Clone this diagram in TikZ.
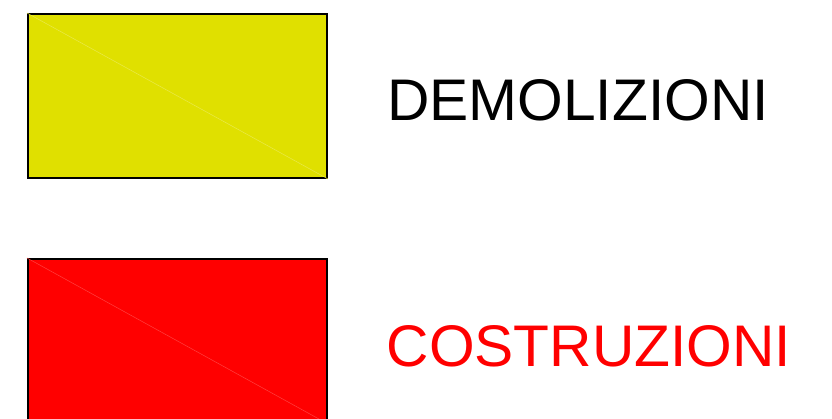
\documentclass[tikz,border=0pt]{standalone}
\usepackage{fontspec}
\setmainfont{Liberation Sans}
\definecolor{demoyellow}{RGB}{224,224,0}
\definecolor{costred}{RGB}{255,0,0}
\tikzset{
  swatch/.style={draw=black, line width=2pt, minimum width=299pt, minimum height=164pt, inner sep=0pt, anchor=north west},
  diag/.style={line width=0.5pt},
  legendtext/.style={anchor=base west, inner sep=0pt, font=\fontsize{58.7}{70}\selectfont}
}
\begin{document}
\begin{tikzpicture}[x=1pt,y=-1pt]
\useasboundingbox (0,0) rectangle (832,419);
\node[swatch, fill=demoyellow] (yel) at (27,13) {};
\draw[diag, demoyellow!70!white] (yel.north west) -- (yel.south east);
\node[swatch, fill=costred] (red) at (27,258) {};
\draw[diag, costred!75!white] (red.north west) -- (red.south east);
\node[legendtext, text=black] (demo) at (387,121) {DEMOLIZIONI};
\node[legendtext, text=costred] (cost) at (386.5,366) {COSTRUZIONI};
\end{tikzpicture}
\end{document}
